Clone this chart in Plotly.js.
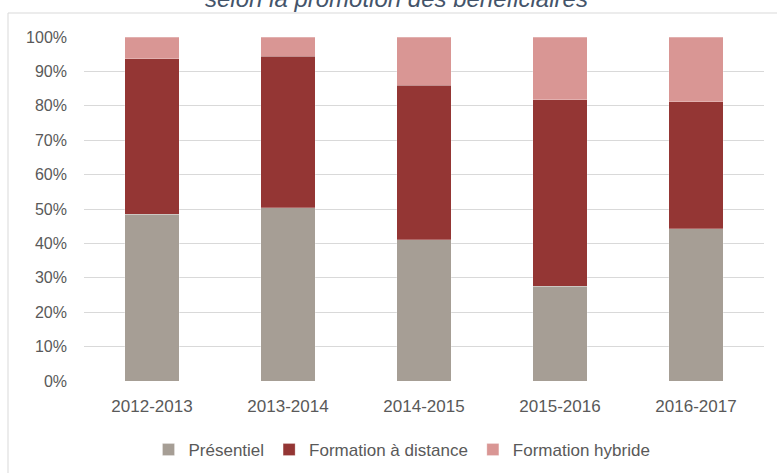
<!DOCTYPE html>
<html>
<head>
<meta charset="utf-8">
<script src="https://cdn.plot.ly/plotly-3.0.1.min.js"></script>
<style>
html,body{margin:0;padding:0;background:#fff;}
#chart{width:777px;height:473px;}
</style>
</head>
<body>
<div id="chart"></div>
<script>
const categories = ["2012-2013", "2013-2014", "2014-2015", "2015-2016", "2016-2017"];
const presentiel = [48.5, 50.3, 41.1, 27.6, 44.2];
const distance = [45.2, 44.1, 44.9, 54.1, 37.0];
const hybride = [6.3, 5.6, 14.0, 18.3, 18.8];
const seriesNames = ["Présentiel", "Formation à distance", "Formation hybride"];
const yTickVals = [0, 10, 20, 30, 40, 50, 60, 70, 80, 90, 100];
const yTickText = ["0%", "10%", "20%", "30%", "40%", "50%", "60%", "70%", "80%", "90%", "100%"];
const titleText = "selon la promotion des bénéficiaires";

const colors = ["#A69E95", "#943634", "#D99694"];
const font = "Liberation Sans, Arial, sans-serif";
const mk = (name, y, c) => ({
  type: "bar", name: name, x: categories, y: y,
  marker: {color: c, line: {color: "rgba(255,255,255,0.5)", width: 0.5}},
  hoverinfo: "skip"
});
const data = [
  mk(seriesNames[0], presentiel, colors[0]),
  mk(seriesNames[1], distance, colors[1]),
  mk(seriesNames[2], hybride, colors[2])
];

const L = 84, R = 13, T = 37, B = 92;
const W = 777, H = 473;
const pw = W - L - R, ph = H - T - B;
const px = v => (v - L) / pw;
const py = v => (H - B - v) / ph;

const layout = {
  width: W, height: H,
  margin: {l: L, r: R, t: T, b: B, pad: 0, autoexpand: false},
  paper_bgcolor: "#fff", plot_bgcolor: "#fff",
  barmode: "stack",
  bargap: 0.6,
  font: {family: font, size: 16, color: "#595959"},
  showlegend: true,
  legend: {
    orientation: "h", x: px(402), xanchor: "center", y: py(450), yanchor: "middle",
    font: {family: font, size: 17, color: "#595959"},
    itemwidth: 30, traceorder: "normal", itemclick: false
  },
  xaxis: {
    type: "category", showgrid: false, zeroline: false, showline: false, automargin: false,
    ticks: "", ticklabelstandoff: 13, tickfont: {family: font, size: 17, color: "#595959"}
  },
  yaxis: {
    range: [0, 100], tickvals: yTickVals, ticktext: yTickText, automargin: false,
    showgrid: true, gridcolor: "#D9D9D9", gridwidth: 1, zeroline: false, showline: false,
    ticks: "", ticklabelstandoff: 16, tickfont: {family: font, size: 16, color: "#595959"}
  },
  annotations: [{
    text: titleText, xref: "paper", yref: "paper", x: px(396), y: py(14),
    xanchor: "center", yanchor: "bottom", showarrow: false,
    font: {family: font, size: 24, color: "#44546A", style: "italic"}
  }],
  shapes: [
    {type: "line", xref: "paper", yref: "paper", x0: px(8), x1: px(777), y0: py(13), y1: py(13),
     line: {color: "#D9D9D9", width: 1}},
    {type: "line", xref: "paper", yref: "paper", x0: px(8), x1: px(8), y0: py(13), y1: py(473),
     line: {color: "#D9D9D9", width: 1}}
  ]
};

Plotly.newPlot("chart", data, layout, {staticPlot: true, displayModeBar: false});
</script>
</body>
</html>
